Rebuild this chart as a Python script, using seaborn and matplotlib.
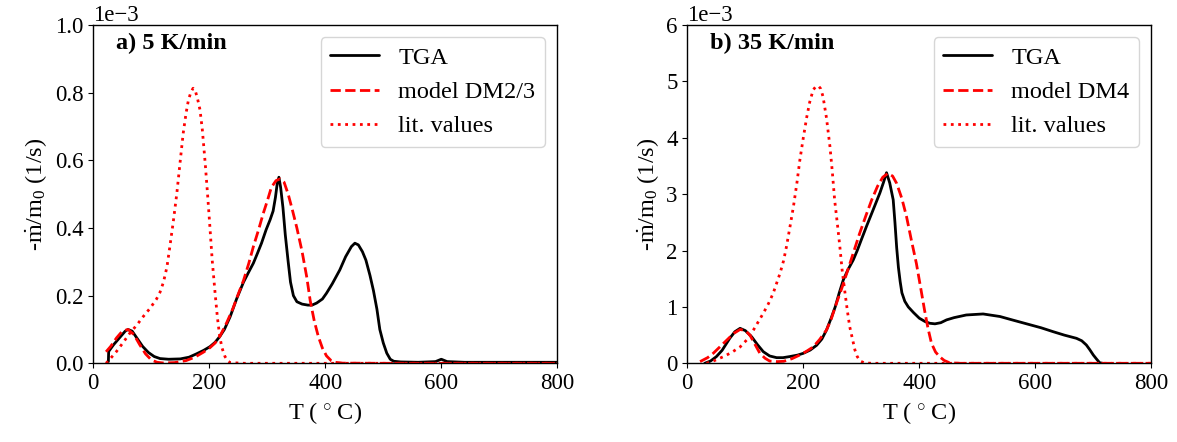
import matplotlib
matplotlib.use("Agg")
import matplotlib.pyplot as plt
import seaborn as sns

# ---------------- data (values in units of 1e-3 1/s) ----------------
# panel a: 5 K/min
T_a_tga = [26, 26.5, 35, 45, 55, 60, 67, 75, 85, 95, 105, 115, 130, 150, 165, 178, 190, 201,
           210, 218, 226, 236, 247, 259, 268, 276, 283, 290, 298, 305, 310, 314, 317, 320,
           323, 327, 331, 336, 340, 345, 351, 360, 370, 377, 385, 395, 402, 412, 425, 435,
           445, 451, 457, 464, 470, 477, 483, 489, 494, 500, 506, 512, 518, 530, 560, 590,
           600, 610, 640, 700, 760, 800]
v_a_tga = [0.005, 0.035, 0.055, 0.075, 0.095, 0.100, 0.095, 0.075, 0.050, 0.032, 0.020, 0.014,
           0.012, 0.013, 0.018, 0.028, 0.038, 0.049, 0.062, 0.079, 0.100, 0.138, 0.190, 0.240,
           0.270, 0.296, 0.325, 0.355, 0.395, 0.425, 0.450, 0.490, 0.530, 0.550, 0.520, 0.460,
           0.380, 0.300, 0.240, 0.200, 0.182, 0.175, 0.172, 0.172, 0.178, 0.190, 0.207, 0.235,
           0.276, 0.315, 0.345, 0.355, 0.350, 0.330, 0.305, 0.260, 0.215, 0.160, 0.100, 0.060,
           0.030, 0.012, 0.006, 0.004, 0.003, 0.005, 0.012, 0.005, 0.003, 0.003, 0.003, 0.003]

T_a_model = [22, 30, 40, 50, 60, 70, 80, 90, 100, 110, 120, 140, 160, 175, 190, 201, 210, 218,
             230, 241, 250, 259, 268, 276, 285, 293, 300, 307, 315, 322, 329, 336, 343, 351,
             360, 368, 374, 381, 388, 395, 402, 410, 417, 430, 500, 600, 700, 800]
v_a_model = [0.034, 0.050, 0.075, 0.095, 0.100, 0.085, 0.055, 0.028, 0.010, 0.003, 0.001, 0.002,
             0.008, 0.018, 0.033, 0.046, 0.060, 0.079, 0.120, 0.163, 0.205, 0.245, 0.295, 0.345,
             0.395, 0.443, 0.480, 0.520, 0.540, 0.545, 0.535, 0.500, 0.455, 0.400, 0.330, 0.255,
             0.185, 0.125, 0.079, 0.045, 0.022, 0.008, 0.003, 0.0005, 0.0, 0.0, 0.0, 0.0]

T_a_lit = [22, 30, 40, 50, 63, 75, 86, 98, 109, 115, 121, 127, 132, 138, 144, 150, 155, 160,
           164, 168, 172, 176, 180, 184, 188, 193, 197, 201, 205, 210, 214, 218, 222, 227, 232,
           236, 260, 400, 600, 800]
v_a_lit = [0.0, 0.015, 0.035, 0.058, 0.089, 0.113, 0.138, 0.163, 0.190, 0.210, 0.240, 0.285,
           0.345, 0.420, 0.502, 0.600, 0.680, 0.740, 0.778, 0.800, 0.813, 0.805, 0.780, 0.749,
           0.690, 0.590, 0.500, 0.404, 0.305, 0.207, 0.135, 0.079, 0.045, 0.020, 0.007, 0.002,
           0.0, 0.0, 0.0, 0.0]

# panel b: 35 K/min
T_b_tga = [30, 40, 50, 60, 73, 82, 91, 100, 111, 121, 131, 142, 154, 165, 177, 190, 200, 212,
           223, 232, 240, 248, 255, 262, 269, 277, 286, 293, 300, 309, 318, 325, 332, 338,
           343.5, 349, 355, 358, 361, 364, 367, 370, 375, 381, 390, 400, 410, 418, 427, 437,
           447, 460, 481, 510, 539, 560, 585, 610, 631, 650, 671, 680, 688, 694, 700, 706,
           711, 716]
v_b_tga = [0.0, 0.04, 0.117, 0.23, 0.44, 0.56, 0.62, 0.58, 0.47, 0.33, 0.206, 0.13, 0.10, 0.10,
           0.12, 0.145, 0.177, 0.235, 0.32, 0.43, 0.59, 0.80, 1.0, 1.25, 1.48, 1.66, 1.83, 2.0,
           2.19, 2.43, 2.66, 2.84, 3.02, 3.2, 3.38, 3.2, 2.9, 2.5, 2.05, 1.7, 1.45, 1.25, 1.1,
           1.0, 0.9, 0.8, 0.74, 0.71, 0.70, 0.72, 0.77, 0.81, 0.857, 0.875, 0.83, 0.77, 0.70,
           0.63, 0.56, 0.50, 0.443, 0.40, 0.325, 0.24, 0.147, 0.07, 0.01, 0.0]

T_b_model = [22, 35, 45, 56, 68, 80, 91, 100, 108, 117, 125, 134, 142, 155, 166, 180, 194, 205,
             217, 228, 240, 248, 257, 266, 275, 286, 297, 308, 318, 328, 337, 346, 354, 361,
             370, 378, 386, 395, 403, 409, 415, 421, 428, 435, 443, 452, 470, 600, 800]
v_b_model = [0.03, 0.10, 0.18, 0.29, 0.41, 0.53, 0.60, 0.58, 0.50, 0.33, 0.18, 0.09, 0.04, 0.03,
             0.035, 0.08, 0.147, 0.21, 0.29, 0.42, 0.59, 0.78, 1.06, 1.32, 1.60, 1.95, 2.30,
             2.62, 2.90, 3.14, 3.30, 3.37, 3.32, 3.19, 2.92, 2.60, 2.20, 1.77, 1.30, 0.945, 0.62,
             0.355, 0.20, 0.117, 0.05, 0.01, 0.0, 0.0, 0.0]

T_b_lit = [33, 45, 62, 76, 91, 103, 114, 122, 131, 140, 148, 154, 160, 166, 171, 177, 183, 189,
           194, 200, 206, 211, 217, 221, 226, 230, 234, 240, 246, 250, 254, 259, 263, 267, 272,
           276, 280, 285, 289, 293, 298, 306, 320, 500, 800]
v_b_lit = [0.0, 0.04, 0.117, 0.19, 0.29, 0.42, 0.59, 0.73, 0.887, 1.06, 1.24, 1.42, 1.60, 1.82,
           2.07, 2.42, 2.78, 3.2, 3.6, 4.0, 4.37, 4.63, 4.85, 4.9, 4.92, 4.87, 4.73, 4.35, 3.84,
           3.4, 2.9, 2.45, 2.07, 1.65, 1.24, 0.93, 0.65, 0.42, 0.236, 0.12, 0.04, 0.005, 0.0,
           0.0, 0.0]

panel_titles = ["a) 5 K/min", "b) 35 K/min"]
model_labels = ["model DM2/3", "model DM4"]
y_limits = [1.0, 6.0]
x_ticks = [0, 200, 400, 600, 800]
scale = 1e-3

# ---------------- style ----------------
sns.set_style("ticks")
plt.rcParams["font.family"] = ["Liberation Serif", "DejaVu Serif"]
plt.rcParams["mathtext.fontset"] = "custom"
plt.rcParams["mathtext.rm"] = "Liberation Serif"
plt.rcParams["mathtext.it"] = "Liberation Serif:italic"
plt.rcParams["mathtext.bf"] = "Liberation Serif:bold"
plt.rcParams["font.size"] = 17.5
plt.rcParams["axes.linewidth"] = 1.0
plt.rcParams["xtick.direction"] = "out"
plt.rcParams["ytick.direction"] = "out"
plt.rcParams["xtick.major.size"] = 3.5
plt.rcParams["ytick.major.size"] = 3.5
plt.rcParams["axes.edgecolor"] = "black"
plt.rcParams["xtick.color"] = "black"
plt.rcParams["ytick.color"] = "black"
plt.rcParams["text.color"] = "black"
plt.rcParams["axes.labelcolor"] = "black"

TICK_FS = 16.5
TEXT_FS = 17.5

fig = plt.figure(figsize=(11.77, 4.42), dpi=100)
ax_a = fig.add_axes([93.3 / 1177, 1 - 363.3 / 442, 464 / 1177, 338.3 / 442])
ax_b = fig.add_axes([687.3 / 1177, 1 - 363.3 / 442, 464 / 1177, 338.3 / 442])

panels = [
    (ax_a, T_a_tga, v_a_tga, T_a_model, v_a_model, T_a_lit, v_a_lit),
    (ax_b, T_b_tga, v_b_tga, T_b_model, v_b_model, T_b_lit, v_b_lit),
]

for i, (ax, Tt, vt, Tm, vm, Tl, vl) in enumerate(panels):
    sns.lineplot(x=Tt, y=[v * scale for v in vt], ax=ax, color="black", lw=2,
                 label="TGA", sort=False, estimator=None)
    sns.lineplot(x=Tm, y=[v * scale for v in vm], ax=ax, color="red", lw=2,
                 linestyle="--", label=model_labels[i], sort=False, estimator=None)
    sns.lineplot(x=Tl, y=[v * scale for v in vl], ax=ax, color="red", lw=2,
                 linestyle=":", label="lit. values", sort=False, estimator=None)
    ax.set_xlim(0, 800)
    ax.set_ylim(0, y_limits[i] * scale)
    ax.set_xticks(x_ticks)
    ax.set_xlabel(r"T ($\,^\circ\,$C)", fontsize=TEXT_FS)
    ax.set_ylabel(r"-$\dot{\mathrm{m}}/\mathrm{m}_0$ (1/s)", fontsize=TEXT_FS)
    ax.ticklabel_format(axis="y", style="sci", scilimits=(0, 0))
    ax.tick_params(labelsize=TICK_FS)
    ax.yaxis.get_offset_text().set_fontsize(TICK_FS)
    ax.text(0.05, 0.944, panel_titles[i], transform=ax.transAxes, fontweight="bold",
            va="center", ha="left", fontsize=TEXT_FS)
    ax.legend(loc="upper right", fontsize=TEXT_FS, fancybox=True, framealpha=0.8)
    for s in ax.spines.values():
        s.set_visible(True)
        s.set_color("black")

fig.savefig("out.png", dpi=100)
